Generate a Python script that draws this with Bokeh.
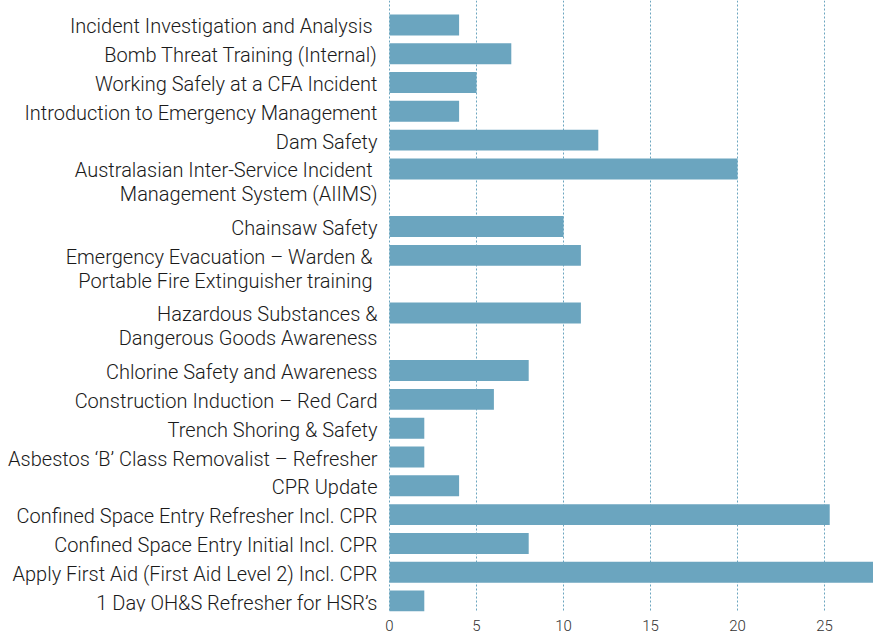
from bokeh.plotting import figure
from bokeh.models import Range1d, FixedTicker, ColumnDataSource
from bokeh.core.properties import value
from bokeh.embed import file_html
from bokeh.resources import INLINE

# ---- data (top to bottom) ----
courses = [
    ["Incident Investigation and Analysis "],
    ["Bomb Threat Training (Internal)"],
    ["Working Safely at a CFA Incident"],
    ["Introduction to Emergency Management"],
    ["Dam Safety"],
    ["Australasian Inter-Service Incident ", "Management System (AIIMS)"],
    ["Chainsaw Safety"],
    ["Emergency Evacuation \u2013 Warden & ", "Portable Fire Extinguisher training "],
    ["Hazardous Substances &", "Dangerous Goods Awareness"],
    ["Chlorine Safety and Awareness"],
    ["Construction Induction \u2013 Red Card"],
    ["Trench Shoring & Safety"],
    ["Asbestos \u2018B\u2019 Class Removalist \u2013 Refresher"],
    ["CPR Update"],
    ["Confined Space Entry Refresher Incl. CPR"],
    ["Confined Space Entry Initial Incl. CPR"],
    ["Apply First Aid (First Aid Level 2) Incl. CPR"],
    ["1 Day OH&S Refresher for HSR\u2019s"],
]
participants = [4, 7, 5, 4, 12, 20, 10, 11, 11, 8, 6, 2, 2, 4, 25.3, 8, 28, 2]
x_ticks = [0, 5, 10, 15, 20, 25]

# ---- layout ----
W, H = 873, 633
FRAME_H = 613
PX_X = 17.4
X0_PX = 389
PITCH = 28.9
FIRST_C = 24.5
FONT = "Roboto Light, Lato Light, Liberation Sans, sans-serif"

slots = []
s = 0
for c in courses:
    slots.append(s)
    s += len(c)

top_val = -FIRST_C / PITCH
bot_val = top_val + FRAME_H / PITCH

p = figure(width=W, height=H, output_backend="svg", toolbar_location=None,
           x_range=Range1d(-X0_PX / PX_X, (W - X0_PX) / PX_X),
           y_range=Range1d(bot_val, top_val),
           min_border_left=0, min_border_right=0, min_border_top=0,
           min_border_bottom=0)
p.outline_line_color = None
p.background_fill_color = "white"
p.border_fill_color = "white"

bars = ColumnDataSource(dict(y=slots, right=participants))
p.hbar(y="y", left=0, right="right", height=21 / PITCH, source=bars,
       fill_color="#6ba5bf", line_color=None)

# labels
lx, ly, lt, lo = [], [], [], []
for c, sl in zip(courses, slots):
    for i, line in enumerate(c):
        t = line.rstrip()
        if line != t:
            t = t + "\u00a0"
        lx.append(0)
        ly.append(sl)
        lt.append(t)
        lo.append(1.5 + 24 * i)
lab = ColumnDataSource(dict(x=lx, y=ly, text=lt, yo=lo))
p.text(x="x", y="y", text="text", y_offset="yo", x_offset=-12, source=lab,
       text_align="right", text_baseline="middle", text_font_size="20px",
       text_font=value(FONT), text_color="#1a1a1a")

p.yaxis.visible = False
p.ygrid.visible = False
p.xaxis.ticker = FixedTicker(ticks=x_ticks)
p.xaxis.axis_line_color = None
p.xaxis.major_tick_line_color = None
p.xaxis.minor_tick_line_color = None
p.xaxis.major_label_standoff = 2
p.xaxis.major_label_text_font_size = "15px"
p.xaxis.major_label_text_color = "#333333"
p.xaxis.major_label_text_font = FONT
p.xgrid.ticker = FixedTicker(ticks=x_ticks)
p.xgrid.grid_line_color = "#6ba5bf"
p.xgrid.grid_line_dash = "2 2"
p.xgrid.grid_line_width = 1

open("out.html", "w").write(file_html(p, INLINE))
